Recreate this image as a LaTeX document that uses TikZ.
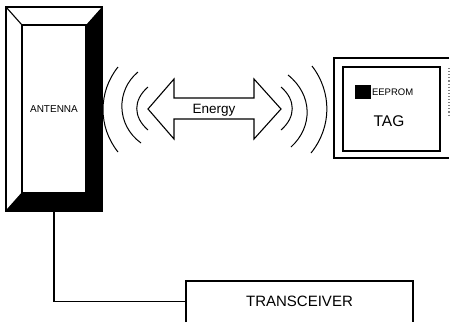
\documentclass[tikz,border=0pt]{standalone}
\usepackage{fontspec}
\setmainfont{Liberation Sans}
\usetikzlibrary{positioning}

\begin{document}
\begin{tikzpicture}[x=1pt,y=-1pt,line width=1.1pt,
  box/.style={inner sep=0pt,outer sep=0pt},
  wave/.style={line width=1pt}]
\useasboundingbox (0,0) rectangle (450,322);
% antenna
\node (casing) [box,draw,minimum width=96pt,minimum height=204pt] at (54,109) {};
\node (antenna) [box,draw,minimum width=64pt,minimum height=168pt,font=\fontsize{10}{12}\selectfont] at (54,109) {ANTENNA};
\fill (casing.north east) -- (antenna.north east) -- (antenna.south east) -- (antenna.south west)
  -- (casing.south west) -- (casing.south east) -- cycle;
\draw (casing.north west) -- (antenna.north west);
\draw (casing.south west) -- (antenna.south west);
% waves, left
\draw[wave] (118,67) .. controls (98,92) and (98,127) .. (118,152);
\draw[wave] (138,72) .. controls (116,90) and (116,125) .. (141,143);
\draw[wave] (148,87) .. controls (133,100) and (133,117) .. (148,130);
% energy arrow
\node (energy) [box,font=\fontsize{13.5}{15}\selectfont] at (214,110) {Energy};
\draw (148,109) -- (174,79) -- (174,98) -- (254,98) -- (254,79) -- (281,109)
  -- (254,139) -- (254,119) -- (174,119) -- (174,139) -- cycle;
% waves, right
\draw[wave] (281,87) .. controls (296,100) and (296,117) .. (281,130);
\draw[wave] (288,75) .. controls (313,95) and (313,127) .. (291,147);
\draw[wave] (312,66) .. controls (332,92) and (332,127) .. (311,153);
% tag
\node (tagcase) [box,minimum width=115pt,minimum height=100pt] at (391.5,108) {};
\draw (tagcase.north east) -- (tagcase.north west) -- (tagcase.south west) -- (tagcase.south east);
\draw[gray,dotted] (449,68) -- (449,116);
\node (tag) [box,draw,minimum width=97pt,minimum height=84pt] at (391.5,109) {};
\node (chip) [box,fill,minimum width=16pt,minimum height=14pt] at (363,92) {};
\node (eeprom) [box,font=\fontsize{9.5}{11}\selectfont,right=1pt of chip] {EEPROM};
\node (taglabel) [box,font=\fontsize{15.5}{18}\selectfont] at (389,121) {TAG};
% transceiver
\node (transceiver) [box,minimum width=227pt,minimum height=41pt,font=\fontsize{15}{18}\selectfont] at (299.5,301.5) {TRANSCEIVER};
\draw (transceiver.south west) -- (transceiver.north west) -- (transceiver.north east) -- (transceiver.south east);
\draw (casing.south) |- (transceiver.west);
\end{tikzpicture}
\end{document}
